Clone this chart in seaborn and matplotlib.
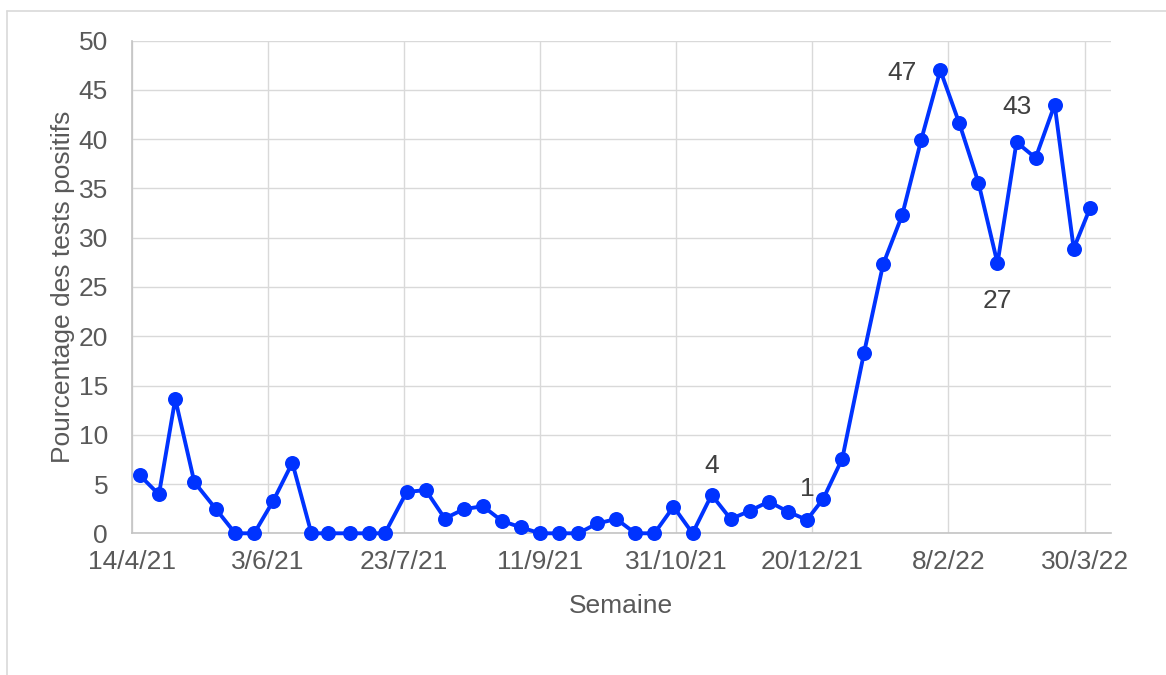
import matplotlib
matplotlib.use("Agg")
import matplotlib.pyplot as plt
import matplotlib.dates as mdates
from matplotlib.lines import Line2D
import seaborn as sns
import pandas as pd

# ---------------- data ----------------
dates = [
    "17/4/21", "24/4/21", "30/4/21", "7/5/21", "15/5/21", "22/5/21", "29/5/21",
    "5/6/21", "12/6/21", "19/6/21", "25/6/21", "3/7/21", "10/7/21", "16/7/21",
    "24/7/21", "31/7/21", "7/8/21", "14/8/21", "21/8/21", "28/8/21", "4/9/21",
    "11/9/21", "18/9/21", "25/9/21", "2/10/21", "9/10/21", "16/10/21", "23/10/21",
    "30/10/21", "6/11/21", "13/11/21", "20/11/21", "27/11/21", "4/12/21",
    "11/12/21", "18/12/21", "24/12/21", "31/12/21", "8/1/22", "15/1/22",
    "22/1/22", "29/1/22", "5/2/22", "12/2/22", "19/2/22", "26/2/22", "5/3/22",
    "12/3/22", "19/3/22", "26/3/22", "1/4/22",
]
positivity = [
    5.88, 3.94, 13.64, 5.2, 2.44, 0.0, 0.0,
    3.3, 7.16, 0.0, 0.0, 0.0, 0.0, 0.0,
    4.2, 4.38, 1.5, 2.45, 2.75, 1.25, 0.6,
    0.0, 0.0, 0.0, 1.0, 1.45, 0.0, 0.0,
    2.7, 0.0, 3.9, 1.45, 2.27, 3.22,
    2.2, 1.36, 3.5, 7.58, 18.33, 27.3,
    32.3, 39.95, 47.0, 41.6, 35.6, 27.4, 39.7,
    38.1, 43.5, 28.9, 33.0,
]
# labelled points: (date, text)
label_dates = ["13/11/21", "18/12/21", "5/2/22", "26/2/22", "19/3/22"]
label_texts = ["4", "1", "47", "27", "43"]

x_tick_labels = ["14/4/21", "3/6/21", "23/7/21", "11/9/21", "31/10/21",
                 "20/12/21", "8/2/22", "30/3/22"]
y_ticks = [0, 5, 10, 15, 20, 25, 30, 35, 40, 45, 50]

x_title = "Semaine"
y_title = "Pourcentage des tests positifs"

# ---------------- style ----------------
sns.set_theme(style="white")
plt.rcParams["font.family"] = ["Liberation Sans", "DejaVu Sans"]

BLUE = "#0033FF"
GRID = "#d9d9d9"
SPINE = "#c4c4c4"
TICKC = "#595959"
ANNC = "#404040"
FS = 19

df = pd.DataFrame({
    "date": pd.to_datetime(dates, format="%d/%m/%y"),
    "value": positivity,
})

fig = plt.figure(figsize=(11.66, 6.75), dpi=100)
ax = fig.add_axes([131.7 / 1166, 1 - 533.3 / 675,
                   (1111 - 131.7) / 1166, (533.3 - 40.7) / 675])

sns.lineplot(data=df, x="date", y="value", ax=ax, color=BLUE, linewidth=2.8,
             marker="o", markersize=10.8, markeredgewidth=0,
             markerfacecolor=BLUE, clip_on=False, zorder=5)

xt = pd.to_datetime(x_tick_labels, format="%d/%m/%y")
x0 = mdates.date2num(xt[0])
px_per_day = (1084.6 - 131.7) / 350.0
ax.set_xlim(x0, x0 + (1111 - 131.7) / px_per_day)
ax.set_ylim(0, 50)
ax.set_xticks(mdates.date2num(xt))
ax.set_xticklabels(x_tick_labels)
ax.set_yticks(y_ticks)
ax.set_yticklabels([str(v) for v in y_ticks])

ax.grid(True, color=GRID, linewidth=1.0, zorder=0)
ax.set_axisbelow(True)
for s in ["top", "right"]:
    ax.spines[s].set_visible(False)
for s in ["left", "bottom"]:
    ax.spines[s].set_color(SPINE)
    ax.spines[s].set_linewidth(1.2)

ax.tick_params(axis="both", length=0, labelsize=FS, labelcolor=TICKC)
ax.tick_params(axis="x", pad=12)
ax.tick_params(axis="y", pad=17)

ax.set_xlabel(x_title, fontsize=FS, color=TICKC)
ax.set_ylabel(y_title, fontsize=FS, color=TICKC)
ax.xaxis.set_label_coords(0.5, -0.123)
ax.yaxis.set_label_coords(-0.058, 0.5)

# annotations
offsets = {
    "4": ((0, 15.6), "center"),
    "1": ((0, 17.0), "center"),
    "47": ((-17.3, -6.8), "right"),
    "27": ((0, -32.0), "center"),
    "43": ((-16.6, -6.8), "right"),
}
val_by_date = dict(zip(df["date"], df["value"]))
for d, t in zip(label_dates, label_texts):
    dd = pd.to_datetime(d, format="%d/%m/%y")
    off, ha = offsets[t]
    ax.annotate(t, (mdates.date2num(dd), val_by_date[dd]), xytext=off,
                textcoords="offset points", ha=ha, va="baseline",
                fontsize=FS, color=ANNC, zorder=6)

# outer frame (screenshot border)
fig.add_artist(Line2D([7 / 1166, 1.0], [1 - 11 / 675, 1 - 11 / 675],
                      transform=fig.transFigure, color=GRID, linewidth=1.2))
fig.add_artist(Line2D([7 / 1166, 7 / 1166], [0.0, 1 - 11 / 675],
                      transform=fig.transFigure, color=GRID, linewidth=1.2))

fig.savefig("out.png", dpi=100)
